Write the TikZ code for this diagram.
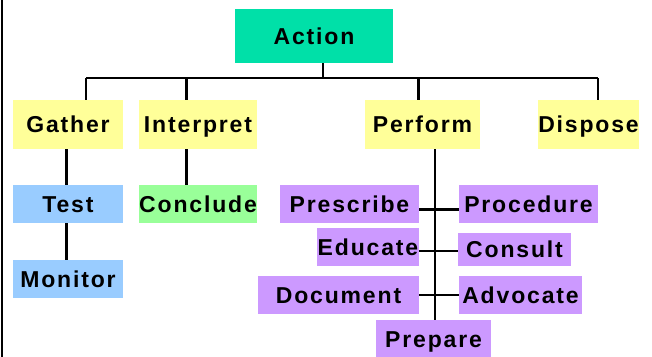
\documentclass[tikz,border=0pt]{standalone}
\usepackage{fontspec}
\newfontfamily\lab[LetterSpace=8]{Liberation Sans}
\definecolor{actc}{HTML}{00E0A8}
\definecolor{yelc}{HTML}{FFFF99}
\definecolor{bluc}{HTML}{99CCFF}
\definecolor{grnc}{HTML}{99FF99}
\definecolor{purc}{HTML}{CC99FF}
\tikzset{
  box/.style={inner sep=0pt, text height=16.5pt, text depth=0pt,
    font=\lab\bfseries\fontsize{23}{23}\selectfont, text=black},
  conn/.style={draw=black, line width=2.5pt}
}
\begin{document}
\begin{tikzpicture}[x=1pt,y=-1pt]
\useasboundingbox (0,0) rectangle (652,356);
\fill[white] (0,0) rectangle (652,356);
\draw[line width=2pt] (2,-2) -- (2,360);
% nodes
\node[box, fill=actc, minimum width=158pt, minimum height=54pt] (action) at (314,36) {Action};
\node[box, fill=yelc, minimum width=110pt, minimum height=49pt] (gather) at (68,124.5) {Gather};
\node[box, fill=yelc, minimum width=118pt, minimum height=49pt] (interpret) at (198,124.5) {Interpret};
\node[box, fill=yelc, minimum width=115pt, minimum height=49pt] (perform) at (422.5,124.5) {Perform};
\node[box, fill=yelc, minimum width=99pt, minimum height=49pt] (dispose) at (588.5,124.5) {Dispose};
\node[box, fill=bluc, minimum width=110pt, minimum height=38pt] (test) at (68,204) {Test};
\node[box, fill=bluc, minimum width=110pt, minimum height=38pt] (monitor) at (68,279) {Monitor};
\node[box, fill=grnc, minimum width=118pt, minimum height=38pt] (conclude) at (198,204) {Conclude};
\node[box, fill=purc, minimum width=139pt, minimum height=38pt] (prescribe) at (349.5,204) {Prescribe};
\node[box, fill=purc, minimum width=139pt, minimum height=38pt] (procedure) at (528.5,204) {Procedure};
\node[box, fill=purc, minimum width=102pt, minimum height=38pt] (educate) at (368,247) {Educate};
\node[box, fill=purc, minimum width=113pt, minimum height=33pt] (consult) at (514.5,249.5) {Consult};
\node[box, fill=purc, minimum width=161pt, minimum height=38pt] (document) at (338.5,295) {Document};
\node[box, fill=purc, minimum width=123pt, minimum height=38pt] (advocate) at (520.5,295) {Advocate};
\node[box, fill=purc, minimum width=115pt, minimum height=38pt] (prepare) at (433.5,339) {Prepare};
% bus
\coordinate (busL) at (86,78);
\coordinate (busR) at (598,78);
\draw[conn] (busL) -- (busR);
\draw[conn] ([xshift=9pt]action.south) -- ([xshift=9pt]action.south |- busL);
\draw[conn] ([xshift=18pt]gather.north) -- ([xshift=18pt]gather.north |- busL);
\draw[conn] ([xshift=-11.3pt]interpret.north) -- ([xshift=-11.3pt]interpret.north |- busL);
\draw[conn] ([xshift=-3.8pt]perform.north) -- ([xshift=-3.8pt]perform.north |- busL);
\draw[conn] ([xshift=9.5pt]dispose.north) -- ([xshift=9.5pt]dispose.north |- busL);
% branches
\draw[conn] ([xshift=-1.3pt]gather.south) -- ([xshift=-1.3pt]test.north);
\draw[conn] ([xshift=-1.3pt]test.south) -- ([xshift=-1.3pt]monitor.north);
\draw[conn] ([xshift=-11.3pt]interpret.south) -- ([xshift=-11.3pt]conclude.north);
\draw[conn] ([xshift=12.5pt]perform.south) -- ([xshift=1.5pt]prepare.north);
\draw[conn] ([yshift=-5.3pt]prescribe.east) -- ([yshift=-5.3pt]procedure.west);
\draw[conn] ([yshift=-4pt]educate.east) -- ([yshift=-1.5pt]consult.west);
\draw[conn] (document.east) -- (advocate.west);
\end{tikzpicture}
\end{document}
